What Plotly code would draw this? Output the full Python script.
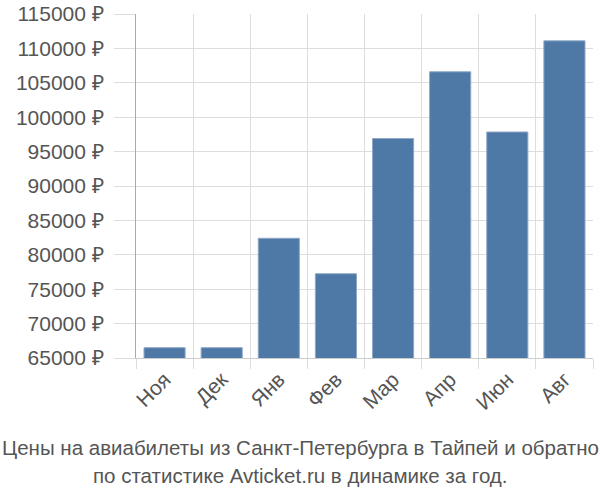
import plotly.graph_objects as go

months = ["Ноя", "Дек", "Янв", "Фев", "Мар", "Апр", "Июн", "Авг"]
prices = [66500, 66500, 82400, 77250, 96900, 106600, 97850, 111100]
y_ticks = [65000, 70000, 75000, 80000, 85000, 90000, 95000, 100000, 105000, 110000, 115000]
title_lines = ["Цены на авиабилеты из Санкт-Петербурга в Тайпей и обратно",
               "по статистике Avticket.ru в динамике за год."]

fig = go.Figure()
fig.add_trace(go.Bar(
    x=months, y=prices,
    marker=dict(color="#4e78a6", line=dict(color="#8fa9c8", width=1)),
))

font_family = "Liberation Sans, Arial, sans-serif"
fig.update_layout(
    width=600, height=500,
    margin=dict(l=136, r=7, t=14, b=142),
    plot_bgcolor="white", paper_bgcolor="white",
    bargap=0.28,
    showlegend=False,
    font=dict(family=font_family, color="#555555", size=21),
)
fig.update_yaxes(
    automargin=False,
    range=[65000, 115000],
    tickvals=y_ticks,
    ticktext=[f"{v} ₽" for v in y_ticks],
    showgrid=True, gridcolor="#dddddd", gridwidth=1,
    ticks="outside", ticklen=21, tickcolor="#dddddd",
    ticklabelstandoff=6,
    showline=True, linecolor="#aaaaaa", linewidth=1,
    zeroline=False,
    tickfont=dict(size=21, color="#555555"),
)
fig.update_xaxes(
    automargin=False,
    tickson="boundaries",
    showgrid=True, gridcolor="#dddddd", gridwidth=1,
    ticks="outside", ticklen=10, tickcolor="#dddddd",
    showline=True, linecolor="#cccccc", linewidth=1,
    tickangle=-45,
    tickfont=dict(size=21, color="#555555"),
)
for i, (line, ypix) in enumerate(zip(title_lines, [447, 475])):
    fig.add_annotation(
        text=line,
        xref="paper", yref="paper",
        x=(300 - 136) / (600 - 136 - 7),
        y=(500 - 142 - ypix) / (500 - 142 - 14),
        xanchor="center", yanchor="middle",
        showarrow=False,
        font=dict(size=20.5, color="#555555", family=font_family),
    )
fig.write_html("out.html")
